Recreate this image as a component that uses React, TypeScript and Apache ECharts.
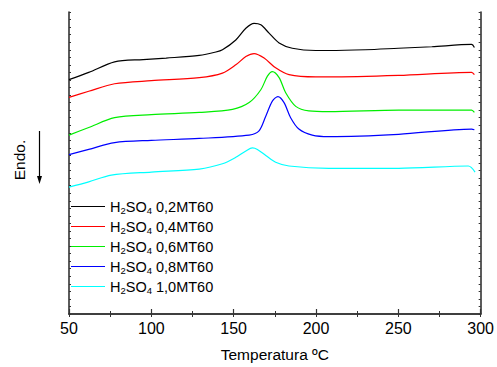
import React, { useEffect, useRef } from "react";
import * as echarts from "echarts";

const seriesNames = [
  "H2SO4 0,2MT60",
  "H2SO4 0,4MT60",
  "H2SO4 0,6MT60",
  "H2SO4 0,8MT60",
  "H2SO4 1,0MT60",
];
const seriesColors = ["#000000", "#ff0000", "#00ee00", "#0000ff", "#00ffff"];

const tBlack = [50, 62, 77.7, 95, 109, 129.1, 139.2, 143.2, 151.3, 157.4, 162.4, 166.5, 171.5, 177.6, 185.6, 199.8, 207.8, 230, 250, 270.3, 294.5, 296.2];
const vBlack = [31.05, 32.0, 33.4, 33.7, 33.9, 34.25, 34.7, 35.0, 36.3, 37.85, 38.5, 38.3, 37.2, 35.9, 35.2, 34.9, 34.9, 35.0, 35.2, 35.4, 35.7, 35.3];

const tRed = [50, 62, 77.7, 100, 129.1, 143.2, 151.3, 157.4, 162.4, 168.5, 175.5, 183.6, 199.8, 207.8, 250.2, 294.5, 296.2];
const vRed = [28.7, 29.5, 30.5, 30.9, 31.3, 31.9, 33.0, 34.1, 34.5, 33.9, 32.6, 31.7, 31.4, 31.4, 31.6, 32.0, 31.7];

const tGreen = [50, 62, 77.7, 100, 129.1, 149.3, 159.4, 166.5, 170.5, 173.5, 177.6, 181.6, 187.7, 195.7, 207.8, 250.2, 294.5, 296.2];
const vGreen = [23.7, 24.7, 26.0, 26.4, 26.7, 27.1, 28.0, 29.7, 31.5, 32.1, 31.3, 29.3, 27.5, 26.9, 26.8, 27.0, 27.0, 26.7];

const tBlue = [50, 62, 77.7, 100, 129.1, 159.4, 165.4, 169.5, 173.5, 176.9, 180.6, 184.6, 189.6, 197.7, 207.8, 250.2, 294.5, 296.2];
const vBlue = [21.1, 21.8, 22.7, 23.0, 23.25, 23.7, 24.25, 26.2, 28.2, 28.8, 28.0, 26.0, 24.5, 23.7, 23.5, 23.8, 24.5, 24.4];

const tCyan = [50, 62, 75.7, 100, 129.1, 143.2, 151.3, 157.4, 161.4, 164.4, 169.5, 175.5, 183.6, 207.8, 250.2, 292.5, 296.6];
const vCyan = [16.8, 17.5, 18.4, 18.8, 19.2, 19.9, 20.75, 21.6, 22.0, 21.8, 21.0, 20.1, 19.6, 19.3, 19.3, 19.6, 18.8];

const temps = [tBlack, tRed, tGreen, tBlue, tCyan];
const values = [vBlack, vRed, vGreen, vBlue, vCyan];

const xTicks = [50, 100, 150, 200, 250, 300];
const xName = "Temperatura ºC";
const yName = "Endo.";

const FONT = "Liberation Sans, Arial, sans-serif";

export default function App() {
  const ref = useRef<HTMLDivElement>(null);
  useEffect(() => {
    if (!ref.current) return;
    const chart = echarts.init(ref.current, undefined, { renderer: "svg" });
    const axisLine = { show: true, lineStyle: { color: "#333", width: 1.6 } };
    const series = seriesNames.map((name, i) => ({
      name,
      type: "line",
      xAxisIndex: 0,
      yAxisIndex: 0,
      smooth: 0.3,
      symbol: "none",
      showSymbol: false,
      lineStyle: { color: seriesColors[i], width: 1.2 },
      itemStyle: { color: seriesColors[i] },
      data: temps[i].map((t, j) => [t, values[i][j]]),
    }));
    chart.setOption({
      animation: false,
      textStyle: { fontFamily: FONT },
      grid: { left: 69, right: 15, top: 12, bottom: 51, containLabel: false },
      legend: {
        orient: "vertical",
        left: 71,
        top: 199,
        padding: 0,
        itemWidth: 34,
        itemHeight: 14,
        itemGap: 4,
        icon: "path://M0,0L34,0L34,1L0,1Z",
        data: seriesNames,
        formatter: (name: string) => name.replace("H2SO4", "H{sub|2}SO{sub|4}"),
        textStyle: {
          fontFamily: FONT,
          fontSize: 14.5,
          color: "#000",
          rich: {
            sub: { fontSize: 9.5, fontFamily: FONT, color: "#000", padding: [7, 0, 0, 0] },
          },
        },
      },
      xAxis: [
        {
          type: "value",
          position: "bottom",
          min: 50,
          max: 300,
          interval: 50,
          name: xName,
          nameLocation: "middle",
          nameGap: 32,
          nameTextStyle: { fontFamily: FONT, fontSize: 15.5, color: "#000" },
          axisLine,
          axisTick: { show: true, inside: true, length: 5, lineStyle: { color: "#333", width: 1.2 } },
          minorTick: { show: true, splitNumber: 2, length: 3, lineStyle: { color: "#333", width: 1 } },
          axisLabel: {
            margin: 6,
            fontFamily: FONT,
            fontSize: 16,
            color: "#000",
            formatter: (v: number) => (xTicks.includes(v) ? String(v) : ""),
          },
          splitLine: { show: false },
        },
        {
          type: "value",
          position: "top",
          min: 50,
          max: 300,
          interval: 25,
          axisLine,
          axisTick: { show: true, inside: true, length: 3, lineStyle: { color: "#333", width: 1 } },
          axisLabel: { show: false },
          splitLine: { show: false },
        },
      ],
      yAxis: [
        {
          type: "value",
          position: "left",
          min: 0,
          max: 40,
          interval: 1,
          axisLine,
          axisTick: { show: true, inside: true, length: 2, lineStyle: { color: "#333", width: 1 } },
          axisLabel: { show: false },
          splitLine: { show: false },
        },
        {
          type: "value",
          position: "right",
          min: 0,
          max: 40,
          interval: 1,
          axisLine,
          axisTick: { show: true, inside: true, length: 2, lineStyle: { color: "#333", width: 1 } },
          axisLabel: { show: false },
          splitLine: { show: false },
        },
      ],
      graphic: [
        {
          type: "text",
          x: 19,
          y: 160,
          rotation: Math.PI / 2,
          style: {
            text: yName,
            fontFamily: FONT,
            fontSize: 15.5,
            fill: "#000",
            align: "center",
            verticalAlign: "middle",
          },
        },
        {
          type: "line",
          shape: { x1: 39.5, y1: 131, x2: 39.5, y2: 178 },
          style: { stroke: "#000", lineWidth: 1.2 },
        },
        {
          type: "polygon",
          shape: { points: [[37, 176], [42, 176], [39.5, 184]] },
          style: { fill: "#000" },
        },
      ],
      series,
    });
    return () => chart.dispose();
  }, []);
  return (
    <div
      ref={ref}
      style={{ position: "fixed", left: 0, top: 0, width: 497, height: 367, background: "#fff" }}
    />
  );
}
